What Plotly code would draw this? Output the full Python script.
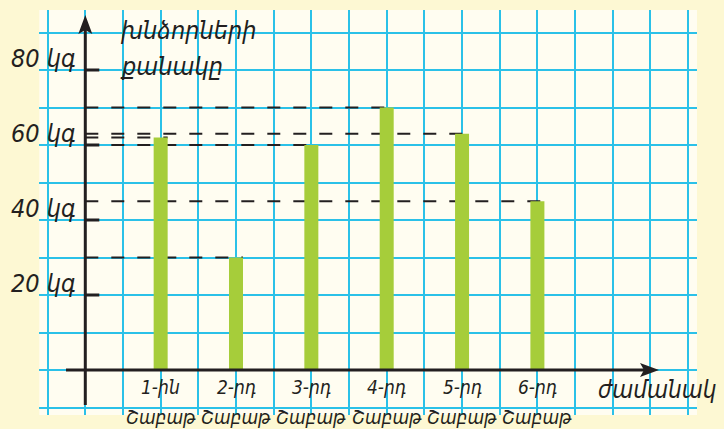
import plotly.graph_objects as go

# data
weeks = [1, 2, 3, 4, 5, 6]
week_labels = ["1-ին", "2-րդ", "3-րդ", "4-րդ", "5-րդ", "6-րդ"]
week_word = "Շաբաթ"
apples_kg = [62, 30, 60, 70, 63, 45]
y_ticks = [20, 40, 60, 80]
y_tick_labels = ["20 կգ", "40 կգ", "60 կգ", "80 կգ"]
y_title = ["խնձորների", "քանակը"]
x_title = "ժամանակ"

W, H = 724, 429
INK = "#231F20"
GRID = "#2BC1E8"
OUTER = "#FDF8D3"
FONT = "DejaVu Sans Condensed, DejaVu Sans"

# pixel scale of the drawing
X0_PX, X_UNIT = 85.3, 75.35      # x=0 at 85.3px, one week = 75.35px
Y0_PX, Y_UNIT = 370.0, 3.75      # 0 kg at 370px, 1 kg = 3.75px
PAPER = (39.3, 10, 697, 415)     # left, top, right, bottom of grid paper


def dx(px):
    return (px - X0_PX) / X_UNIT


def dy(px):
    return (Y0_PX - px) / Y_UNIT


bar_w = 14 / X_UNIT

fig = go.Figure()
fig.add_trace(go.Bar(
    x=weeks, y=apples_kg, width=bar_w,
    marker=dict(color="#A6CD3A", line=dict(width=0)),
    hoverinfo="skip"))

shapes = []
# dashed guide lines from the axis to each bar
for w, v in zip(weeks, apples_kg):
    shapes.append(dict(type="line", layer="between", x0=0, x1=w + bar_w / 2, y0=v, y1=v,
                       line=dict(color=INK, width=2, dash="13px,13px")))
# tick marks on the y axis
for t in y_ticks:
    shapes.append(dict(type="line", layer="above", x0=0, x1=dx(X0_PX + 14), y0=t, y1=t,
                       line=dict(color=INK, width=3)))
# axes
shapes.append(dict(type="line", layer="above", x0=0, x1=0, y0=dy(405), y1=dy(30),
                   line=dict(color=INK, width=3)))
shapes.append(dict(type="line", layer="above", x0=dx(66), x1=dx(645), y0=0, y1=0,
                   line=dict(color=INK, width=3)))
# arrow heads
ty, by, hw = dy(15), dy(34), dx(X0_PX + 7)
shapes.append(dict(type="path", layer="above", fillcolor=INK, line=dict(width=0),
                   path=f"M 0,{ty} L {hw},{by} L 0,{dy(30)} L {-hw},{by} Z"))
tx, bx, hh = dx(659), dx(640), 7 / Y_UNIT
shapes.append(dict(type="path", layer="above", fillcolor=INK, line=dict(width=0),
                   path=f"M {tx},0 L {bx},{hh} L {dx(644)},0 L {bx},{-hh} Z"))


def label(text, x, y, size, xref="paper", xanchor="center", yanchor="middle", **kw):
    return dict(x=x, xref=xref, xanchor=xanchor, y=y, yanchor=yanchor,
                text=f"<i>{text}</i>", showarrow=False,
                font=dict(family=FONT, size=size, color=INK), **kw)


ann = []
for t, lab in zip(y_ticks, y_tick_labels):
    ann.append(label(lab, 78 / W, t, 25, xanchor="right", yanchor="bottom", yref="y", yshift=-5))
for w, lab in zip(weeks, week_labels):
    ann.append(label(lab, w, 1 - 387 / H, 19, xref="x", yref="paper"))
    ann.append(label(week_word, w, 1 - 417 / H, 19, xref="x", yref="paper"))
ann.append(label(y_title[0], 118 / W, 1 - 31 / H, 25, xanchor="left", yref="paper"))
ann.append(label(y_title[1], 118 / W, 1 - 66 / H, 25, xanchor="left", yref="paper"))
ann.append(label(x_title, 596 / W, 1 - 390 / H, 24, xanchor="left", yref="paper"))

fig.update_layout(
    width=W, height=H,
    margin=dict(l=0, r=0, t=0, b=0),
    paper_bgcolor=OUTER,
    plot_bgcolor="#FFFDF1",
    showlegend=False,
    shapes=shapes,
    annotations=ann,
    xaxis=dict(domain=[PAPER[0] / W, PAPER[2] / W], range=[dx(PAPER[0]), dx(PAPER[2])],
               tick0=0, dtick=0.5, showgrid=True, gridcolor=GRID, gridwidth=2,
               zeroline=False, showticklabels=False, ticks="", fixedrange=True),
    yaxis=dict(domain=[1 - PAPER[3] / H, 1 - PAPER[1] / H], range=[dy(PAPER[3]), dy(PAPER[1])],
               tick0=0, dtick=10, showgrid=True, gridcolor=GRID, gridwidth=2,
               zeroline=False, showticklabels=False, ticks="", fixedrange=True),
)

# drop the page's default body margin so the figure sits at the window corner
fig.write_html("out.html", config={"displayModeBar": False},
               post_script=f"document.body.style.margin='0';document.body.style.background='{OUTER}';")
